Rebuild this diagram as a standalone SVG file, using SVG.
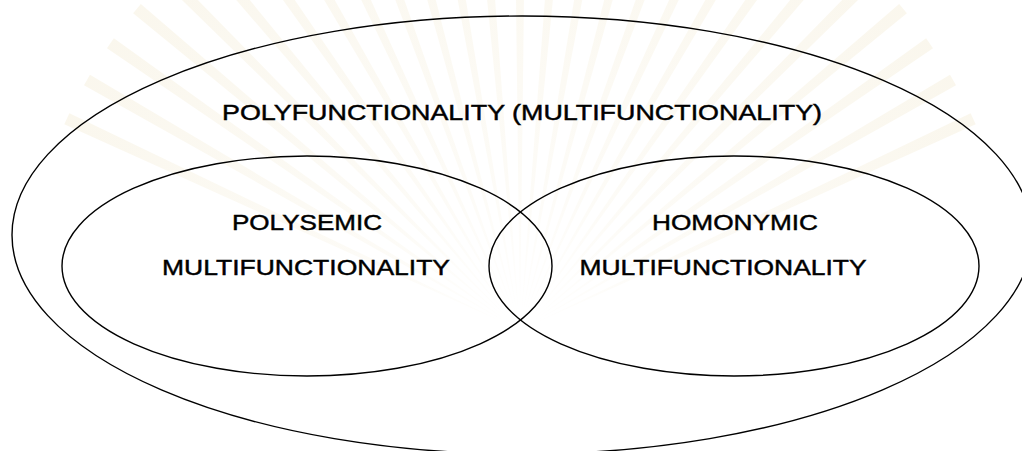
<svg xmlns="http://www.w3.org/2000/svg" xmlns:xlink="http://www.w3.org/1999/xlink" width="1022" height="451" viewBox="0 0 1022 451">
  <style>
    .set { fill: none; stroke: #000; stroke-width: 1.4; }
    .label { font-family: "Liberation Sans", Arial, sans-serif; font-size: 22px; fill: #000; stroke: #000; stroke-width: 0.45; text-anchor: middle; }
  </style>
  <defs>
    <linearGradient id="rayFade" x1="0" y1="0" x2="0" y2="1">
      <stop offset="0" stop-color="#efe4c4" stop-opacity="0.3"/>
      <stop offset="0.7" stop-color="#efe4c4" stop-opacity="0.14"/>
      <stop offset="1" stop-color="#efe4c4" stop-opacity="0"/>
    </linearGradient>
    <polygon id="ray" points="520,330 514,-170 526,-170" fill="url(#rayFade)"/>
  </defs>

  <rect width="1022" height="451" fill="#fff"/>

  <!-- faint background rays -->
  <g id="backdrop">
    <use xlink:href="#ray" transform="rotate(-65 520 330)"/>
    <use xlink:href="#ray" transform="rotate(-60 520 330)"/>
    <use xlink:href="#ray" transform="rotate(-55 520 330)"/>
    <use xlink:href="#ray" transform="rotate(-50 520 330)"/>
    <use xlink:href="#ray" transform="rotate(-45 520 330)"/>
    <use xlink:href="#ray" transform="rotate(-40 520 330)"/>
    <use xlink:href="#ray" transform="rotate(-35 520 330)"/>
    <use xlink:href="#ray" transform="rotate(-30 520 330)"/>
    <use xlink:href="#ray" transform="rotate(-25 520 330)"/>
    <use xlink:href="#ray" transform="rotate(-20 520 330)"/>
    <use xlink:href="#ray" transform="rotate(-15 520 330)"/>
    <use xlink:href="#ray" transform="rotate(-10 520 330)"/>
    <use xlink:href="#ray" transform="rotate(-5 520 330)"/>
    <use xlink:href="#ray"/>
    <use xlink:href="#ray" transform="rotate(5 520 330)"/>
    <use xlink:href="#ray" transform="rotate(10 520 330)"/>
    <use xlink:href="#ray" transform="rotate(15 520 330)"/>
    <use xlink:href="#ray" transform="rotate(20 520 330)"/>
    <use xlink:href="#ray" transform="rotate(25 520 330)"/>
    <use xlink:href="#ray" transform="rotate(30 520 330)"/>
    <use xlink:href="#ray" transform="rotate(35 520 330)"/>
    <use xlink:href="#ray" transform="rotate(40 520 330)"/>
    <use xlink:href="#ray" transform="rotate(45 520 330)"/>
    <use xlink:href="#ray" transform="rotate(50 520 330)"/>
    <use xlink:href="#ray" transform="rotate(55 520 330)"/>
    <use xlink:href="#ray" transform="rotate(60 520 330)"/>
    <use xlink:href="#ray" transform="rotate(65 520 330)"/>
  </g>

  <!-- outer set -->
  <g id="polyfunctionality">
    <ellipse class="set" cx="522" cy="235" rx="510" ry="219"/>
    <text class="label" x="522" y="120" textLength="600" lengthAdjust="spacingAndGlyphs">POLYFUNCTIONALITY (MULTIFUNCTIONALITY)</text>
  </g>

  <!-- left inner set -->
  <g id="polysemic">
    <ellipse class="set" cx="307" cy="266" rx="245" ry="110"/>
    <text class="label" x="307" y="230" textLength="150" lengthAdjust="spacingAndGlyphs">POLYSEMIC</text>
    <text class="label" x="306" y="275" textLength="288" lengthAdjust="spacingAndGlyphs">MULTIFUNCTIONALITY</text>
  </g>

  <!-- right inner set -->
  <g id="homonymic">
    <ellipse class="set" cx="734" cy="266" rx="245" ry="110"/>
    <text class="label" x="735" y="230" textLength="166" lengthAdjust="spacingAndGlyphs">HOMONYMIC</text>
    <text class="label" x="723" y="275" textLength="287" lengthAdjust="spacingAndGlyphs">MULTIFUNCTIONALITY</text>
  </g>

  <g id="connectors"/>
</svg>
